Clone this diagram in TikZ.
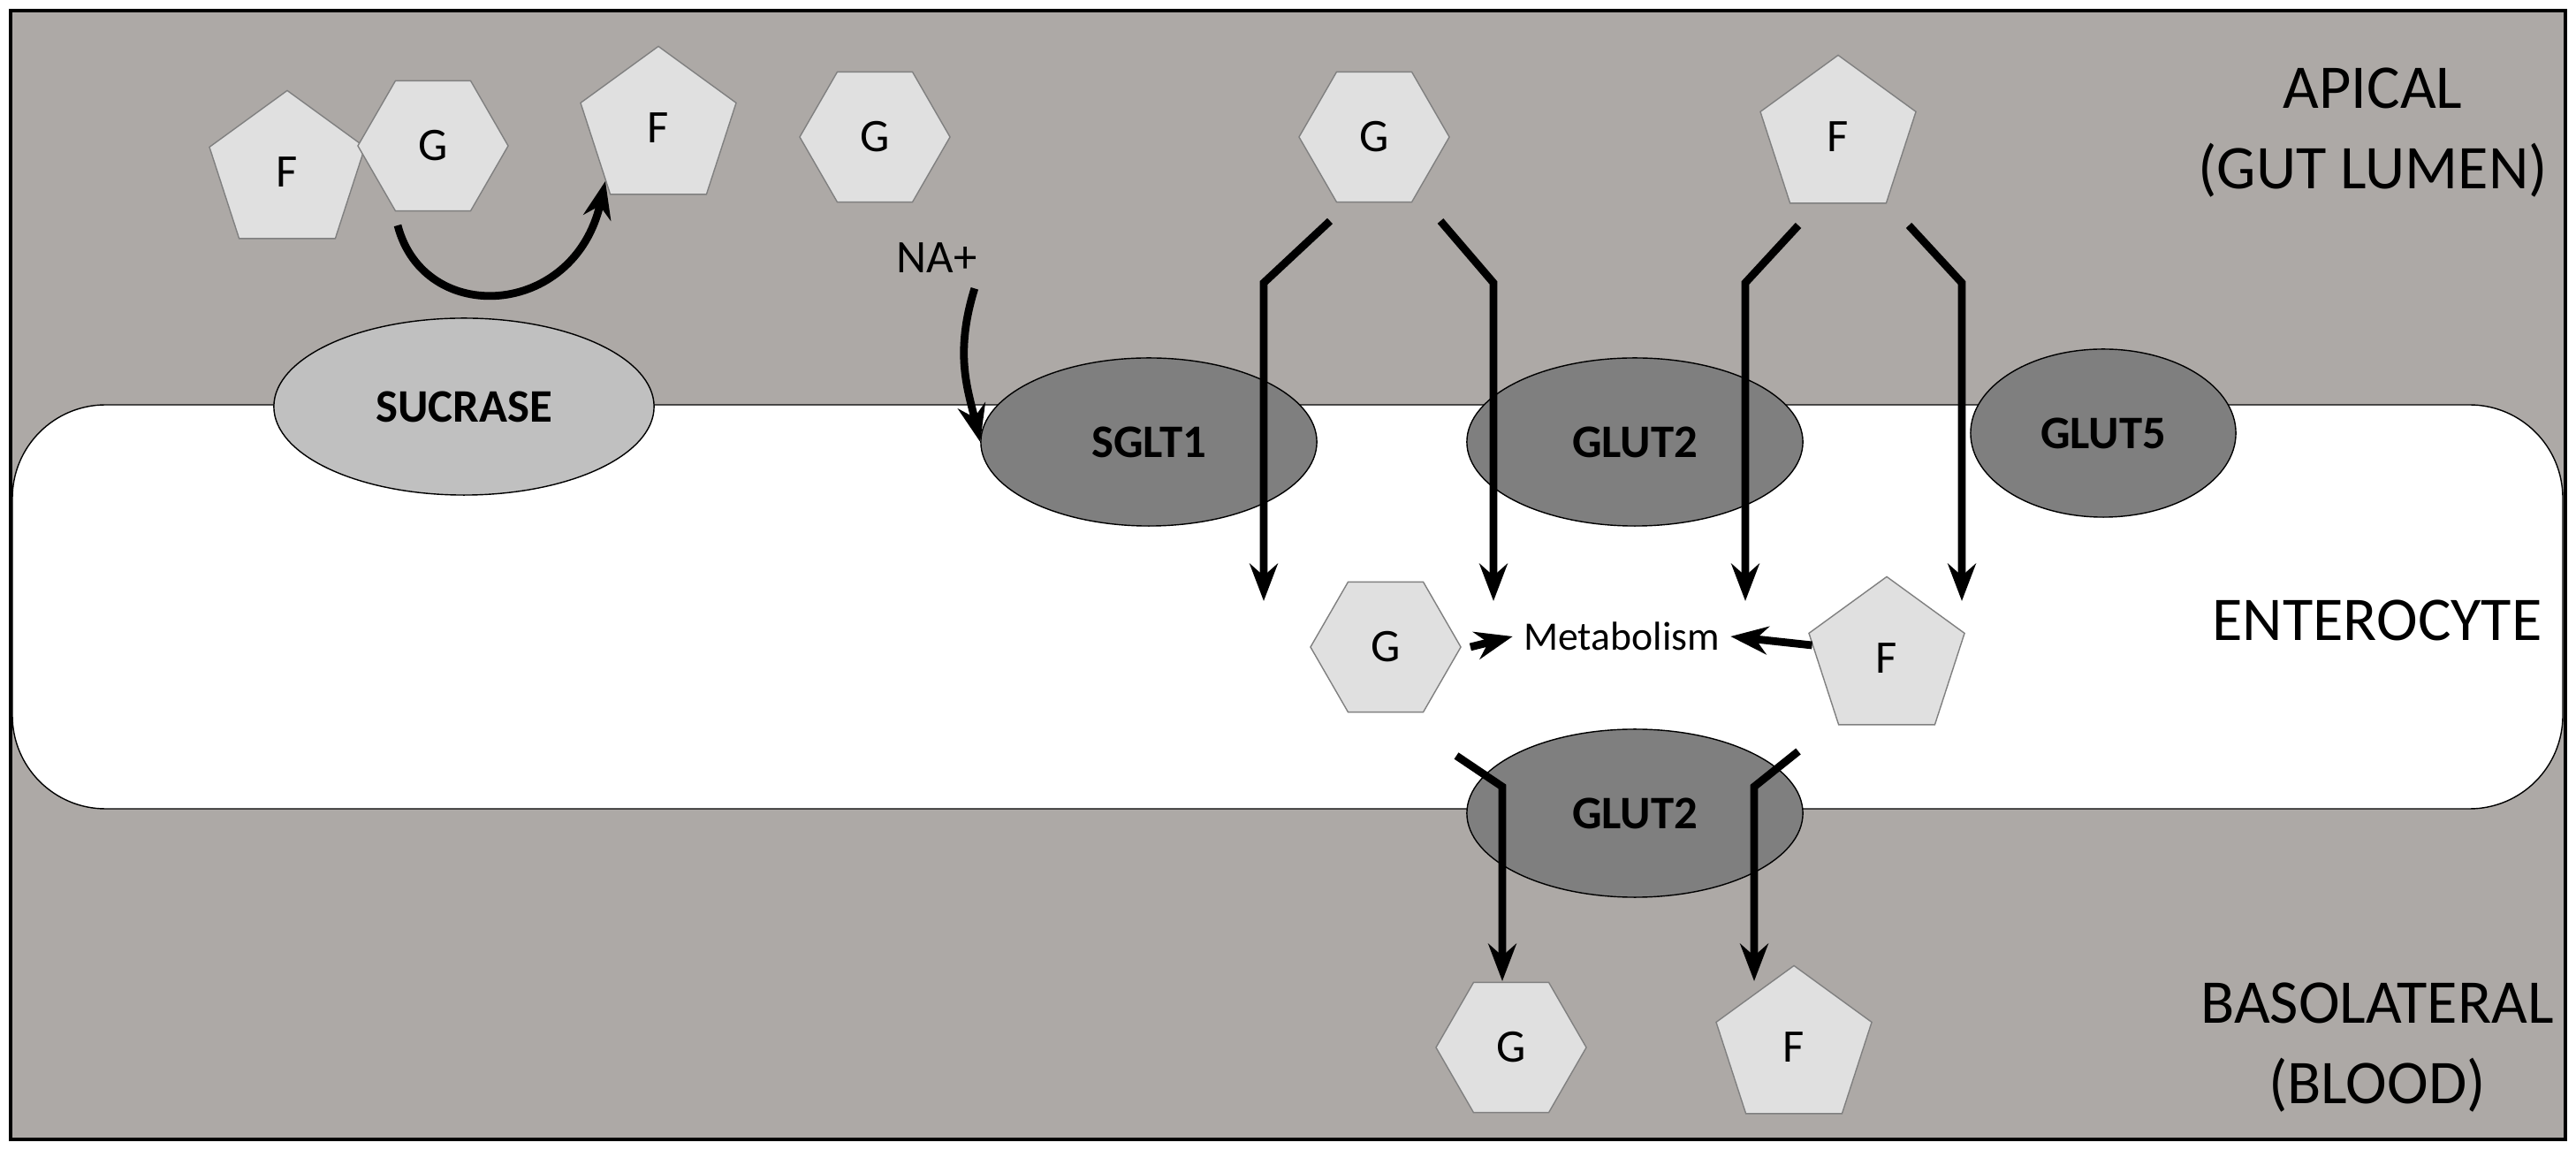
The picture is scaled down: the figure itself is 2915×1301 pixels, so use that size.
\documentclass[tikz,border=0pt]{standalone}
\usepackage{fontspec}
\setmainfont{Carlito}
\usetikzlibrary{shapes.geometric,arrows.meta}
\definecolor{bg}{HTML}{ADA9A6}
\definecolor{lite}{HTML}{E0E0E0}
\definecolor{mem}{HTML}{C0C0C0}
\definecolor{dark}{HTML}{7F7F7F}
\begin{document}
\begin{tikzpicture}[x=0.01cm,y=-0.01cm,
 hex/.style={regular polygon,regular polygon sides=6,minimum size=1.7cm,inner sep=0,fill=lite,draw=gray,font=\fontsize{15}{15}\selectfont},
 pent/.style={regular polygon,regular polygon sides=5,minimum size=1.85cm,inner sep=0,fill=lite,draw=gray,font=\fontsize{15}{15}\selectfont},
 prot/.style={ellipse,draw=black,fill=dark,minimum width=3.8cm,minimum height=1.9cm,font=\bfseries\fontsize{15}{15}\selectfont},
 tr/.style={line width=2.5pt,-{Stealth[length=12pt,width=9pt]}},
 big/.style={font=\fontsize{20}{26}\selectfont,align=center}]
\useasboundingbox (0,0) rectangle (2915,1301);
\fill[white] (0,0) rectangle (2915,1301);
\draw[fill=bg,line width=1pt] (12,12) rectangle (2903,1289);
\draw[fill=white,rounded corners=30pt] (14,458) rectangle (2900,915);
% proteins
\node[prot,fill=mem,minimum width=4.3cm,minimum height=2cm] (suc) at (525,460) {SUCRASE};
\node[prot] (sglt) at (1300,500) {SGLT1};
\node[prot] (g2a) at (1850,500) {GLUT2};
\node[prot,minimum width=3cm] (g5) at (2380,490) {GLUT5};
\node[prot] (g2b) at (1850,920) {GLUT2};
% sugars
\node[pent] (f1) at (325,195) {F};
\node[hex] (g1) at (490,165) {G};
\node[pent] (f2) at (745,145) {F};
\node[hex] (g2) at (990,155) {G};
\node[hex] (g3) at (1555,155) {G};
\node[pent] (f3) at (2080,155) {F};
\node[hex] (g4) at (1568,732) {G};
\node[pent] (f4) at (2135,745) {F};
\node[hex] (g5s) at (1710,1185) {G};
\node[pent] (f5) at (2030,1185) {F};
% labels
\node[big] (ap) at (2685,150) {APICAL\\(GUT LUMEN)};
\node[big] (en) at (2690,702) {ENTEROCYTE};
\node[big] (bl) at (2690,1185) {BASOLATERAL\\(BLOOD)};
\node[font=\fontsize{13}{13}\selectfont] (met) at (1835,720) {Metabolism};
\node[font=\fontsize{15}{15}\selectfont] (na) at (1060,292) {NA+};
% sucrase arrow
\draw[tr] (450,255) .. controls (480,370) and (650,360) .. (f2.south west);
\draw[tr] (na.south east) ++(-15,5) .. controls (1080,400) and (1095,440) .. (sglt.west);
% transport
\coordinate (a1) at (1505,250); \coordinate (a2) at (1430,320); \coordinate (a3) at (1430,680);
\draw[tr,-{Stealth[length=12pt,width=9pt]}] (a1) -- (a2) -- (a3);
\coordinate (b1) at (1630,250); \coordinate (b2) at (1690,320); \coordinate (b3) at (1690,680);
\draw[tr] (b1) -- (b2) -- (b3);
\coordinate (c1) at (2035,255); \coordinate (c2) at (1975,320); \coordinate (c3) at (1975,680);
\draw[tr] (c1) -- (c2) -- (c3);
\coordinate (d1) at (2160,255); \coordinate (d2) at (2220,320); \coordinate (d3) at (2220,680);
\draw[tr] (d1) -- (d2) -- (d3);
\draw[tr] (g4.east) ++(10,0) -- (met.west);
\draw[tr] (f4.west) ++(-5,-15) -- (met.east);
\coordinate (e1) at (1648,855); \coordinate (e2) at (1700,890); \coordinate (e3) at (1700,1110);
\draw[tr] (e1) -- (e2) -- (e3);
\coordinate (h1) at (2035,850); \coordinate (h2) at (1985,890); \coordinate (h3) at (1985,1110);
\draw[tr] (h1) -- (h2) -- (h3);
\end{tikzpicture}
\end{document}
